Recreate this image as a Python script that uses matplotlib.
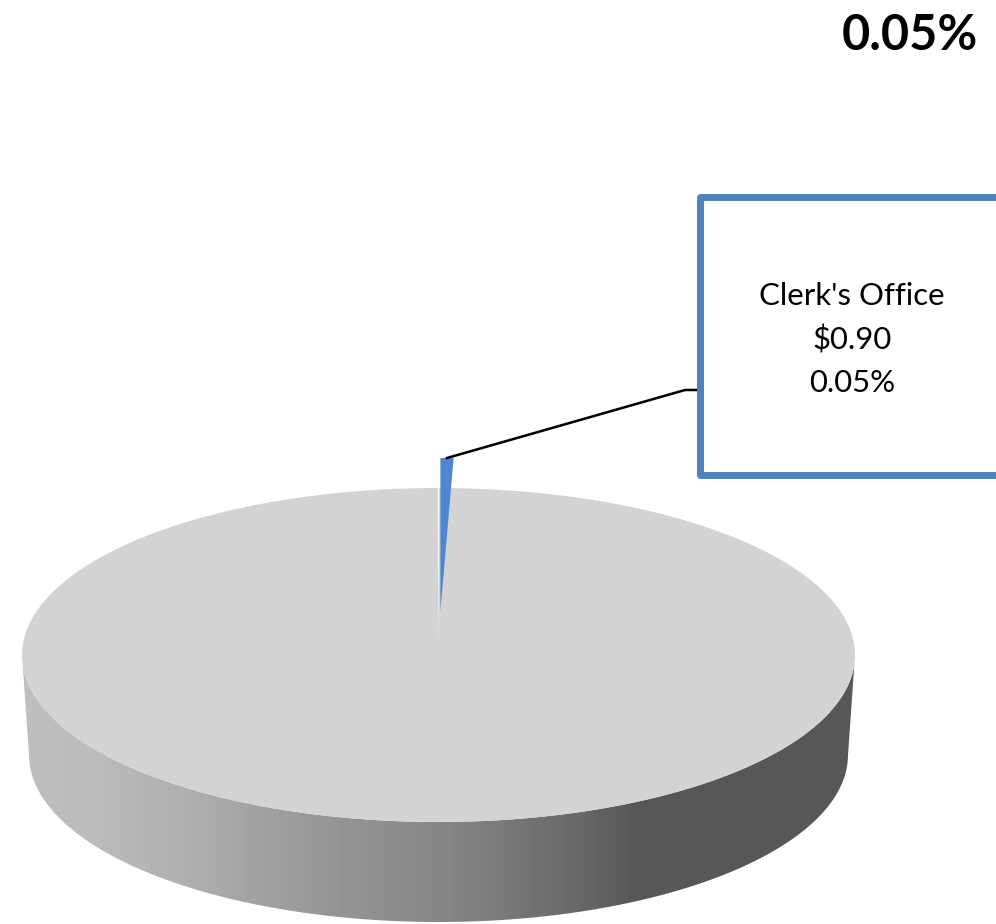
import numpy as np
import matplotlib
matplotlib.use('Agg')
import matplotlib.pyplot as plt
from matplotlib.patches import Rectangle, PathPatch
from matplotlib.path import Path
from matplotlib.transforms import Affine2D

plt.rcParams['font.family'] = ['Lato', 'DejaVu Sans']

# values as printed in the chart
title_text = '0.05%'
label_name = "Clerk's Office"
label_amount = '$0.90'
label_share = '0.05%'
true_shares = [0.05, 99.95]
# the blue slice is drawn wider than its label says, this is what the picture shows
drawn_share = [0.55, 99.45]

# side shading, x pixel -> gray level
shade_x = [29, 96, 192, 320, 449, 577, 640, 848]
shade_gray = [190, 187, 174, 151, 133, 104, 87, 87]

fig = plt.figure(figsize=(9.96, 9.24), dpi=100)
ax = fig.add_axes([0, 0, 1, 1])

cx, cy, rx, ry = 438.5, 655, 416.5, 167
cy2, rx2 = 755, 409.5

# pie top, gap in the gray comes from the real share
wedges, _ = ax.pie(true_shares, startangle=90.1, counterclock=False, colors=['white', '#d3d3d3'])
top = Affine2D().scale(rx, -ry).translate(cx, cy) + ax.transData
for w in wedges:
    w.set_transform(top)
    w.set_zorder(3)

blue, _ = ax.pie(drawn_share, startangle=90, counterclock=False, radius=0.92,
                 explode=[0.26, 0], colors=['#4f86cf', 'none'])
for w in blue:
    w.set_transform(top)
    w.set_zorder(4)

# side wall, bottom half of the top ellipse joined to the lower ellipse
t = np.linspace(0, np.pi, 200)
wall_x = np.r_[cx + rx * np.cos(t), cx + rx2 * np.cos(t[::-1])]
wall_y = np.r_[cy + ry * np.sin(t), cy2 + ry * np.sin(t[::-1])]
xs = np.arange(0, 996)
shade = np.interp(xs, shade_x, shade_gray)[None, :]
im = ax.imshow(shade, cmap='gray', vmin=0, vmax=255, extent=(0, 996, 924, 0), aspect='auto', zorder=2)
wall = PathPatch(Path(np.c_[wall_x, wall_y]), transform=ax.transData, facecolor='none', edgecolor='none')
ax.add_patch(wall)
im.set_clip_path(wall)

# callout
ax.plot([447, 685, 697], [458, 390, 390], color='black', lw=1.8, zorder=5)
ax.add_patch(Rectangle((699.5, 196.5), 320, 278, facecolor='white', edgecolor='#4f81bd',
                       lw=5, joinstyle='round', zorder=6))
ax.text(852, 296, label_name, ha='center', va='center', fontsize=22.4, color='black', zorder=7)
ax.text(852, 340, label_amount, ha='center', va='center', fontsize=22.4, color='black', zorder=7)
ax.text(852, 383, label_share, ha='center', va='center', fontsize=22.4, color='black', zorder=7)

ax.text(978, 35, title_text, ha='right', va='center', fontsize=35, fontweight='bold', color='black')

ax.set_xlim(0, 996)
ax.set_ylim(924, 0)
ax.set_aspect('auto')
ax.axis('off')

fig.savefig('out.png', dpi=100)
